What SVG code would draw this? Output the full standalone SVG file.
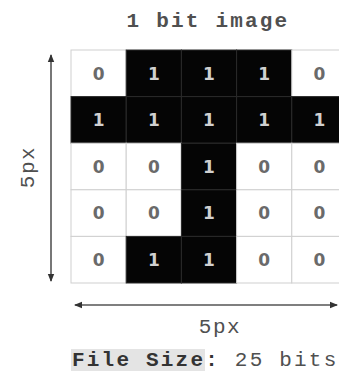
<svg xmlns="http://www.w3.org/2000/svg" width="339" height="371" viewBox="0 0 339 371">
<defs>
<style>
.t{font-family:"Liberation Mono","DejaVu Sans Mono",monospace;fill:#505050}
.w{fill:#fff;stroke:#cfcfcf;stroke-width:1}
.b{fill:#050505;stroke:#2a2a2a;stroke-width:1}
.d0{font-family:"DejaVu Sans","Liberation Sans",sans-serif;font-size:17px;font-weight:bold;fill:#6a6a6a;text-anchor:middle}
.d1{font-family:"DejaVu Sans","Liberation Sans",sans-serif;font-size:17px;font-weight:bold;fill:#d0d0d0;text-anchor:middle}
.ax{stroke:#555;stroke-width:1.6;fill:none}
</style>
<marker id="ah" viewBox="0 0 8 8" refX="7" refY="4" markerWidth="5" markerHeight="5" orient="auto-start-reverse" markerUnits="strokeWidth">
<path d="M0,0.8 L8,4 L0,7.2 Z" fill="#333"/>
</marker>
</defs>
<rect width="339" height="371" fill="#fff"/>
<text class="t" x="208" y="27" font-size="21" font-weight="bold" letter-spacing="2.2" text-anchor="middle">1 bit image</text>
<g id="grid">
<g id="r1">
<rect class="w" x="71" y="50" width="55.2" height="46.6"/><text class="d0" x="98.6" y="79.5">0</text>
<rect class="b" x="126.2" y="50" width="55.2" height="46.6"/><text class="d1" x="153.8" y="79.5">1</text>
<rect class="b" x="181.4" y="50" width="55.2" height="46.6"/><text class="d1" x="209" y="79.5">1</text>
<rect class="b" x="236.6" y="50" width="55.2" height="46.6"/><text class="d1" x="264.2" y="79.5">1</text>
<rect class="w" x="291.8" y="50" width="55.2" height="46.6"/><text class="d0" x="319.4" y="79.5">0</text>
</g>
<g id="r2">
<rect class="b" x="71" y="96.6" width="55.2" height="46.6"/><text class="d1" x="98.6" y="126.1">1</text>
<rect class="b" x="126.2" y="96.6" width="55.2" height="46.6"/><text class="d1" x="153.8" y="126.1">1</text>
<rect class="b" x="181.4" y="96.6" width="55.2" height="46.6"/><text class="d1" x="209" y="126.1">1</text>
<rect class="b" x="236.6" y="96.6" width="55.2" height="46.6"/><text class="d1" x="264.2" y="126.1">1</text>
<rect class="b" x="291.8" y="96.6" width="55.2" height="46.6"/><text class="d1" x="319.4" y="126.1">1</text>
</g>
<g id="r3">
<rect class="w" x="71" y="143.2" width="55.2" height="46.6"/><text class="d0" x="98.6" y="172.7">0</text>
<rect class="w" x="126.2" y="143.2" width="55.2" height="46.6"/><text class="d0" x="153.8" y="172.7">0</text>
<rect class="b" x="181.4" y="143.2" width="55.2" height="46.6"/><text class="d1" x="209" y="172.7">1</text>
<rect class="w" x="236.6" y="143.2" width="55.2" height="46.6"/><text class="d0" x="264.2" y="172.7">0</text>
<rect class="w" x="291.8" y="143.2" width="55.2" height="46.6"/><text class="d0" x="319.4" y="172.7">0</text>
</g>
<g id="r4">
<rect class="w" x="71" y="189.8" width="55.2" height="46.6"/><text class="d0" x="98.6" y="219.3">0</text>
<rect class="w" x="126.2" y="189.8" width="55.2" height="46.6"/><text class="d0" x="153.8" y="219.3">0</text>
<rect class="b" x="181.4" y="189.8" width="55.2" height="46.6"/><text class="d1" x="209" y="219.3">1</text>
<rect class="w" x="236.6" y="189.8" width="55.2" height="46.6"/><text class="d0" x="264.2" y="219.3">0</text>
<rect class="w" x="291.8" y="189.8" width="55.2" height="46.6"/><text class="d0" x="319.4" y="219.3">0</text>
</g>
<g id="r5">
<rect class="w" x="71" y="236.4" width="55.2" height="46.6"/><text class="d0" x="98.6" y="265.9">0</text>
<rect class="b" x="126.2" y="236.4" width="55.2" height="46.6"/><text class="d1" x="153.8" y="265.9">1</text>
<rect class="b" x="181.4" y="236.4" width="55.2" height="46.6"/><text class="d1" x="209" y="265.9">1</text>
<rect class="w" x="236.6" y="236.4" width="55.2" height="46.6"/><text class="d0" x="264.2" y="265.9">0</text>
<rect class="w" x="291.8" y="236.4" width="55.2" height="46.6"/><text class="d0" x="319.4" y="265.9">0</text>
</g>
</g>
<g id="connectors">
<line class="ax" x1="51" y1="55" x2="51" y2="281" marker-start="url(#ah)" marker-end="url(#ah)"/>
<line class="ax" x1="75" y1="305" x2="337" y2="305" marker-start="url(#ah)" marker-end="url(#ah)"/>
</g>
<text class="t" font-size="21" letter-spacing="1.5" text-anchor="middle" transform="translate(34,167) rotate(-90)">5px</text>
<text class="t" x="220" y="333" font-size="21" letter-spacing="1.5" text-anchor="middle">5px</text>
<rect x="71" y="349" width="134" height="22" fill="#e4e4e4"/>
<text class="t" x="72" y="366" font-size="21" letter-spacing="2.2"><tspan font-weight="bold" fill="#333">File Size:</tspan><tspan> 25 bits</tspan></text>
</svg>
